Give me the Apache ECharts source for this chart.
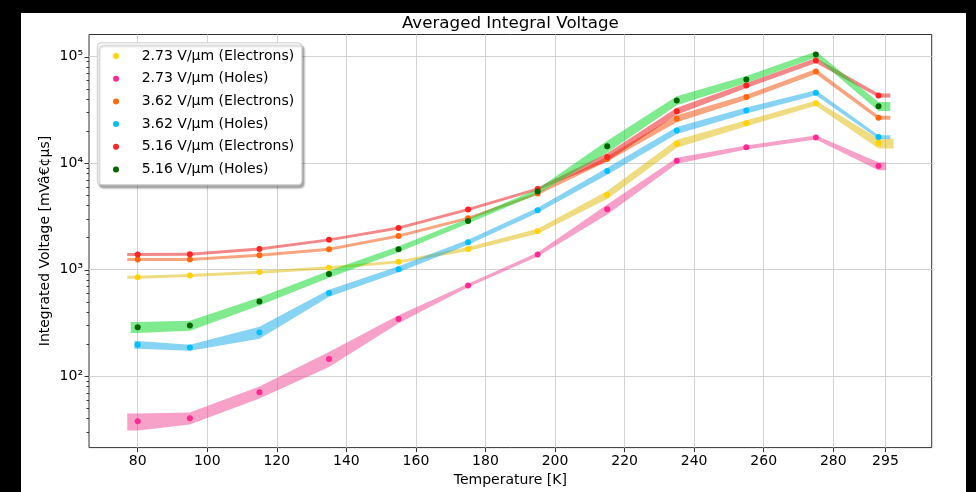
<!DOCTYPE html>
<html><head><meta charset="utf-8">
<script src="https://cdn.jsdelivr.net/npm/echarts@6/dist/echarts.min.js"></script>
<style>
html,body{margin:0;padding:0;background:#000;width:976px;height:492px;overflow:hidden}
#c{position:absolute;left:21px;top:13px;width:945px;height:479px;background:#fff}
</style>
</head><body><div id="c"></div>
<script>
// ---- data ----
const temperatures = [80, 95, 115, 135, 155, 175, 195, 215, 235, 255, 275, 293];

const names = ['2.73 V/μm (Electrons)', '2.73 V/μm (Holes)', '3.62 V/μm (Electrons)',
               '3.62 V/μm (Holes)', '5.16 V/μm (Electrons)', '5.16 V/μm (Holes)'];

const e273 = [849, 880, 946, 1040, 1181, 1563, 2290, 5020, 15200, 23700, 36500, 15300];
const h273 = [37.7, 40.2, 70.5, 145, 343, 710, 1387, 3680, 10520, 14040, 17400, 9380];
const e362 = [1242, 1242, 1365, 1552, 2070, 3033, 5165, 10900, 26100, 41600, 72300, 26600];
const h362 = [197, 185, 257, 601, 1009, 1806, 3604, 8410, 20250, 31200, 45650, 17530];
const e516 = [1387, 1390, 1563, 1900, 2460, 3657, 5700, 11400, 30700, 53500, 91700, 43100];
const h516 = [288, 299, 502, 906, 1552, 2862, 5400, 14350, 38700, 60900, 104500, 34200];

// relative uncertainty (band half-width / value)
const errE273 = [0.032, 0.032, 0.032, 0.032, 0.032, 0.043, 0.054, 0.086, 0.086, 0.065, 0.054, 0.107];
const errH273 = [0.181, 0.129, 0.129, 0.160, 0.086, 0.038, 0.043, 0.107, 0.065, 0.043, 0.043, 0.086];
const errE362 = [0.032, 0.032, 0.032, 0.032, 0.032, 0.032, 0.032, 0.054, 0.075, 0.054, 0.054, 0.043];
const errH362 = [0.086, 0.065, 0.129, 0.075, 0.065, 0.054, 0.054, 0.075, 0.075, 0.065, 0.054, 0.043];
const errE516 = [0.032, 0.032, 0.032, 0.032, 0.032, 0.032, 0.032, 0.086, 0.075, 0.054, 0.054, 0.043];
const errH516 = [0.118, 0.107, 0.086, 0.075, 0.065, 0.054, 0.054, 0.129, 0.097, 0.075, 0.065, 0.097];

// temperature extent of each band
const bandLeft  = [77, 77, 77, 79, 77, 78];
const bandRight = [297.3, 295.2, 296.4, 296.4, 296.4, 296.4];

const xTicks = [80, 100, 120, 140, 160, 180, 200, 220, 240, 260, 280, 295];
const yTickValues = [100, 1000, 10000, 100000];
const yTickLabels = ['10²', '10³', '10⁴', '10⁵'];
const yMinorTicks = [30, 40, 50, 60, 70, 80, 90,
  200, 300, 400, 500, 600, 700, 800, 900,
  2000, 3000, 4000, 5000, 6000, 7000, 8000, 9000,
  20000, 30000, 40000, 50000, 60000, 70000, 80000, 90000];

// ---- styles ----
const pointColors = ['#FFD400', '#FF2A94', '#FF6A0D', '#00BFFF', '#FF2424', '#006400'];
const bandColors = ['rgba(223,183,1,0.5)', 'rgba(239,67,147,0.5)', 'rgba(241,73,0,0.5)',
                    'rgba(15,167,231,0.5)', 'rgba(233,17,17,0.5)', 'rgba(0,215,30,0.5)'];

const X_MIN = 66.0, X_MAX = 308.3, Y_MIN = 21.3, Y_MAX = 161000;
const FONT = 'DejaVu Sans';

const values = [e273, h273, e362, h362, e516, h516];
const errs = [errE273, errH273, errE362, errH362, errE516, errH516];

function bandSeries(k) {
  const v = values[k], e = errs[k];
  const hi = v.map((y, i) => y * (1 + e[i]));
  const lo = v.map((y, i) => y * (1 - e[i]));
  const xs = [bandLeft[k]].concat(temperatures, [bandRight[k]]);
  const his = [hi[0]].concat(hi, [hi[hi.length - 1]]);
  const los = [lo[0]].concat(lo, [lo[lo.length - 1]]);
  return {
    type: 'custom', z: 2, silent: true, animation: false,
    data: [[xs[0], his[0]]],
    renderItem: function (params, api) {
      const pts = [];
      for (let i = 0; i < xs.length; i++) pts.push(api.coord([xs[i], his[i]]));
      for (let i = xs.length - 1; i >= 0; i--) pts.push(api.coord([xs[i], los[i]]));
      return { type: 'polygon', shape: { points: pts }, style: { fill: bandColors[k] } };
    }
  };
}

function scatterSeries(k) {
  return {
    name: names[k], type: 'scatter', z: 3, symbolSize: 6, animation: false,
    itemStyle: { color: pointColors[k], opacity: 1 },
    data: temperatures.map((t, i) => [t, values[k][i]])
  };
}

const series = [];
// grid lines
series.push({
  type: 'line', z: 1, animation: false, showSymbol: false, silent: true,
  lineStyle: { opacity: 0 }, data: [[80, 100]],
  markLine: {
    silent: true, symbol: 'none', animation: false, z: 1,
    label: { show: false },
    lineStyle: { color: '#d3d3d3', type: 'solid', width: 1 },
    emphasis: { disabled: true },
    data: xTicks.map(v => ({ xAxis: v })).concat(yTickValues.map(v => ({ yAxis: v })))
  }
});
// y ticks (major + minor)
series.push({
  type: 'custom', z: 4, silent: true, animation: false, clip: false,
  data: yTickValues.map(v => [X_MIN, v, 1]).concat(yMinorTicks.map(v => [X_MIN, v, 0])),
  renderItem: function (params, api) {
    const p = api.coord([api.value(0), api.value(1)]);
    const len = api.value(2) ? 4.5 : 2.5;
    const y = Math.round(p[1]) + 0.5;
    return { type: 'line', shape: { x1: p[0] - len, y1: y, x2: p[0], y2: y },
             style: { stroke: '#333', lineWidth: 1 } };
  }
});
for (let k = 0; k < 6; k++) series.push(bandSeries(k));
for (let k = 0; k < 6; k++) series.push(scatterSeries(k));

const chart = echarts.init(document.getElementById('c'), null, { renderer: 'canvas' });
chart.setOption({
  animation: false,
  textStyle: { fontFamily: FONT },
  grid: { left: 68, right: 34.3, top: 21.5, bottom: 42.5, show: true,
          borderColor: '#333', borderWidth: 1, backgroundColor: 'transparent' },
  graphic: [{
    type: 'text', x: 489.4, y: 11, z: 10,
    style: { text: 'Averaged Integral Voltage', fill: '#000', font: '16.7px "DejaVu Sans"',
             align: 'center', verticalAlign: 'middle' }
  }],
  legend: {
    data: names, orient: 'vertical', left: 76.3, top: 29.8,
    padding: [5.2, 7.7, 7.3, 15.7], itemWidth: 6, itemHeight: 6, itemGap: 6.7,
    icon: 'circle', selectedMode: false,
    textStyle: { fontSize: 14, lineHeight: 16, color: '#000', fontFamily: FONT, padding: [0, 0, 0, 17.7] },
    backgroundColor: '#fff', borderColor: '#cccccc', borderWidth: 1, borderRadius: 4,
    shadowColor: 'rgba(0,0,0,0.35)', shadowBlur: 2, shadowOffsetX: 2, shadowOffsetY: 3
  },
  xAxis: {
    type: 'value', min: X_MIN, max: X_MAX,
    axisLine: { show: false },
    axisTick: { show: true, customValues: xTicks, length: 4.5, lineStyle: { color: '#333' } },
    axisLabel: { customValues: xTicks, fontSize: 14, color: '#000', margin: 6.5, fontFamily: FONT },
    splitLine: { show: false },
    name: 'Temperature [K]', nameLocation: 'middle', nameGap: 21,
    nameTextStyle: { fontSize: 14, color: '#000', fontFamily: FONT }
  },
  yAxis: {
    type: 'log', logBase: 10, min: Y_MIN, max: Y_MAX,
    axisLine: { show: false }, axisTick: { show: false },
    axisLabel: {
      showMinLabel: false, showMaxLabel: false, fontSize: 14, color: '#000', margin: 6, fontFamily: FONT,
      formatter: function (v) {
        for (let i = 0; i < yTickValues.length; i++) {
          if (Math.abs(v - yTickValues[i]) / yTickValues[i] < 1e-6) return yTickLabels[i];
        }
        return '';
      }
    },
    splitLine: { show: false },
    name: 'Integrated Voltage [mVâ€¢µs]', nameLocation: 'middle', nameGap: 37, nameRotate: 90,
    nameMoveOverlap: false,
    nameTextStyle: { fontSize: 14, color: '#000', fontFamily: FONT }
  },
  series: series
});
</script>
</body></html>
